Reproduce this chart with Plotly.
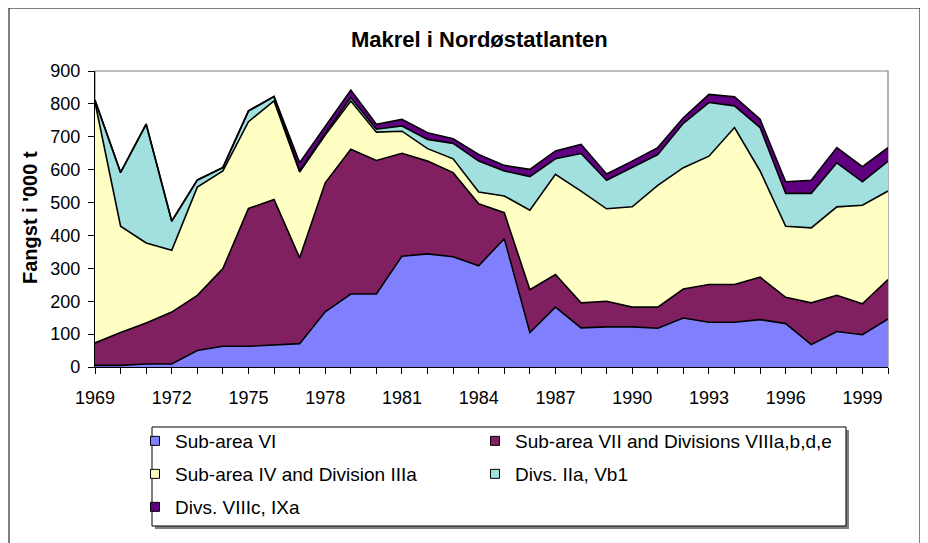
import plotly.graph_objects as go

years = list(range(1969, 2001))

sub_area_vi = [5, 5, 9, 9, 50, 63, 63, 66, 71, 168, 222, 222, 337, 344, 335, 308,
               390, 105, 182, 119, 122, 122, 118, 149, 136, 136, 144, 132, 68, 108, 98, 146]
sub_area_vii = [68, 100, 125, 158, 168, 236, 419, 443, 261, 392, 440, 406, 313, 282, 256, 188,
                79, 130, 99, 76, 78, 60, 64, 88, 115, 115, 129, 80, 127, 110, 94, 120]
sub_area_iv = [732, 323, 243, 188, 329, 297, 264, 300, 261, 145, 147, 86, 67, 38, 42, 36,
               51, 242, 305, 340, 281, 305, 370, 369, 390, 477, 323, 216, 228, 269, 300, 269]
divs_iia = [5, 163, 361, 88, 21, 10, 32, 13, 3, 5, 10, 9, 16, 28, 47, 94,
            76, 102, 47, 114, 87, 119, 94, 135, 163, 66, 132, 100, 105, 134, 71, 91]
divs_viiic = [2, 1, 1, 1, 1, 1, 1, 1, 25, 20, 23, 15, 20, 20, 14, 20,
              17, 22, 24, 28, 19, 20, 21, 17, 25, 28, 25, 35, 40, 46, 46, 41]

series_names = ["Sub-area VI", "Sub-area VII and Divisions VIIIa,b,d,e",
                "Sub-area IV and Division IIIa", "Divs. IIa, Vb1", "Divs. VIIIc, IXa"]
series_values = [sub_area_vi, sub_area_vii, sub_area_iv, divs_iia, divs_viiic]
series_colors = ["#8080FF", "#802060", "#FFFFC4", "#A2E0E0", "#600080"]

title_text = "Makrel i Nordøstatlanten"
y_title = "Fangst i '000 t"
x_labels = [str(y) if (y - 1969) % 3 == 0 else "" for y in years]
y_ticks = list(range(0, 1000, 100))

FONT = "Liberation Sans, Arial, sans-serif"

# page has an 8px body margin: work in page pixels, convert to figure pixels
OFF = 8
W, H = 928, 543
L, R, T, B = 95 - OFF, 888 - OFF, 71 - OFF, 367 - OFF
pw, ph = R - L, B - T

def px(x):
    return (x - OFF - L) / pw

def py(y):
    return (B - (y - OFF)) / ph

# legend slots: (legend id, page x, page y-center)
legend_slots = [("legend", 135, 441), ("legend2", 475, 441),
                ("legend3", 135, 474), ("legend4", 475, 474),
                ("legend5", 135, 507)]

fig = go.Figure()
for name, vals, col in zip(series_names, series_values, series_colors):
    fig.add_trace(go.Scatter(
        x=years, y=vals, name=name, mode="lines", stackgroup="one",
        line=dict(color="black", width=1.6), fillcolor=col, showlegend=False,
        hoverinfo="x+y+name",
    ))
# legend entries with small square swatches, as in the original
for name, col, slot in zip(series_names, series_colors, legend_slots):
    fig.add_trace(go.Scatter(
        x=[None], y=[None], name=name, mode="markers", legend=slot[0],
        marker=dict(symbol="square", size=9, color=col, line=dict(color="black", width=1)),
        showlegend=True, hoverinfo="skip",
    ))

shapes = [
    dict(type="rect", xref="paper", yref="paper", x0=px(9), x1=px(920), y0=py(570), y1=py(8),
         line=dict(color="black", width=1), fillcolor="rgba(0,0,0,0)", layer="below"),
    dict(type="rect", xref="paper", yref="paper", x0=0, x1=1, y0=0, y1=1,
         line=dict(color="#808080", width=1.2), fillcolor="rgba(0,0,0,0)", layer="below"),
    dict(type="rect", xref="paper", yref="paper", x0=px(155), x1=px(849), y0=py(529), y1=py(430),
         line=dict(width=0), fillcolor="#808080", layer="below"),
    dict(type="rect", xref="paper", yref="paper", x0=px(152), x1=px(846), y0=py(526), y1=py(427),
         line=dict(color="black", width=1), fillcolor="white", layer="below"),
]

legends = {}
for lid, lx, ly in legend_slots:
    legends[lid] = dict(
        orientation="h", x=px(lx), y=py(ly), xanchor="left", yanchor="middle",
        bgcolor="rgba(0,0,0,0)", borderwidth=0,
        font=dict(family=FONT, size=19), itemwidth=30,
    )

fig.update_layout(
    width=W, height=H,
    margin=dict(l=L, r=W - R, t=T, b=H - B, autoexpand=False),
    paper_bgcolor="white", plot_bgcolor="white",
    font=dict(family=FONT, size=18, color="black"),
    showlegend=True,
    xaxis=dict(
        range=[1969, 2000], tickvals=years, ticktext=x_labels, tickangle=0,
        showgrid=False, zeroline=False, showline=True, linecolor="black", linewidth=1.2,
        ticks="outside", ticklen=6, tickcolor="black", tickwidth=1,
        tickfont=dict(family=FONT, size=18), ticklabelstandoff=8,
    ),
    yaxis=dict(
        range=[0, 900], tickvals=y_ticks, showgrid=False, zeroline=False,
        showline=True, linecolor="black", linewidth=1.2,
        ticks="outside", ticklen=6, tickcolor="black", tickwidth=1,
        tickfont=dict(family=FONT, size=18), ticklabelstandoff=4,
    ),
    shapes=shapes,
    annotations=[
        dict(text="<b>" + title_text + "</b>", xref="paper", yref="paper",
             x=px(479), y=py(40), xanchor="center", yanchor="middle", showarrow=False,
             font=dict(family=FONT, size=22)),
        dict(text="<b>" + y_title + "</b>", xref="paper", yref="paper",
             x=px(30), y=py(218), xanchor="center", yanchor="middle", showarrow=False,
             textangle=-90, font=dict(family=FONT, size=20)),
    ],
    **legends,
)

fig.write_html("out.html")
